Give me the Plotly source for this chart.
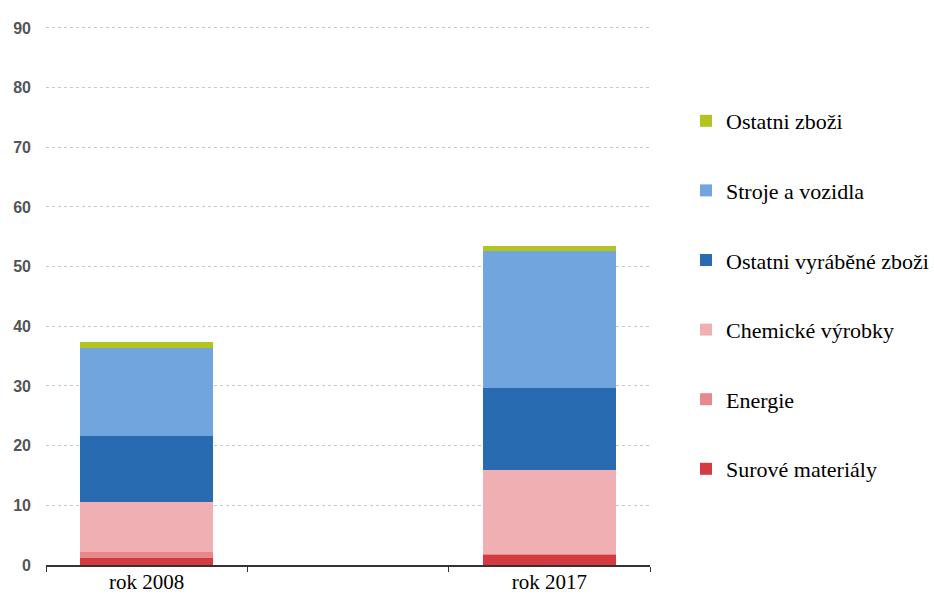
import plotly.graph_objects as go

# Categories (a blank slot sits between the two years)
categories = ["rok 2008", " ", "rok 2017"]
years = ["rok 2008", "rok 2017"]

# Stacked components, bottom to top
series_names = [
    "Surové materiály",
    "Energie",
    "Chemické výrobky",
    "Ostatni vyráběné zboži",
    "Stroje a vozidla",
    "Ostatni zboži",
]
raw_materials = [1.2, 1.7]
energy = [1.0, 0.1]
chemicals = [8.3, 14.1]
other_manufactured = [11.2, 13.7]
machinery = [14.6, 23.1]
other_goods = [1.0, 0.7]

series_values = [raw_materials, energy, chemicals, other_manufactured, machinery, other_goods]
series_colors = ["#d63a41", "#e8878c", "#efafb3", "#286bb1", "#70a6dd", "#b5c31f"]

y_ticks = [0, 10, 20, 30, 40, 50, 60, 70, 80, 90]

SERIF = "Liberation Serif, Times New Roman, serif"

fig = go.Figure()
n = len(series_names)
for i, (name, vals, col) in enumerate(zip(series_names, series_values, series_colors)):
    fig.add_trace(go.Bar(
        x=years,
        y=vals,
        name=name,
        marker=dict(color=col, line=dict(width=0)),
        legendgroup=f"g{i}",
        legendrank=n - i,
        width=0.66,
    ))

fig.update_layout(
    barmode="stack",
    width=934,
    height=595,
    paper_bgcolor="white",
    plot_bgcolor="white",
    margin=dict(l=46, r=284, t=25, b=30, autoexpand=False),
    font=dict(family=SERIF, color="black"),
    showlegend=True,
    legend=dict(
        xref="container", x=686 / 934, xanchor="left",
        yref="container", y=1 - 100 / 595, yanchor="top",
        traceorder="grouped",
        tracegroupgap=38,
        maxheight=1.0,
        font=dict(family=SERIF, size=22, color="black"),
        bgcolor="rgba(0,0,0,0)",
    ),
)

fig.update_xaxes(
    type="category",
    categoryorder="array",
    categoryarray=categories,
    range=[-0.5, 2.5],
    tickson="boundaries",
    ticks="outside",
    ticklen=5,
    tickcolor="#333333",
    showline=True,
    linecolor="#333333",
    linewidth=1.5,
    showgrid=False,
    automargin=False,
    ticklabelstandoff=-3,
    tickfont=dict(family=SERIF, size=21, color="black"),
)

fig.update_yaxes(
    range=[0, 90.5],
    tickvals=y_ticks,
    showgrid=True,
    gridcolor="#c8c8c8",
    griddash="dot",
    gridwidth=1,
    zeroline=False,
    showline=False,
    ticks="",
    automargin=False,
    ticklabelstandoff=14,
    tickfont=dict(family="Liberation Sans", size=16, color="#555555", weight="bold"),
)

fig.write_html("out.html")
